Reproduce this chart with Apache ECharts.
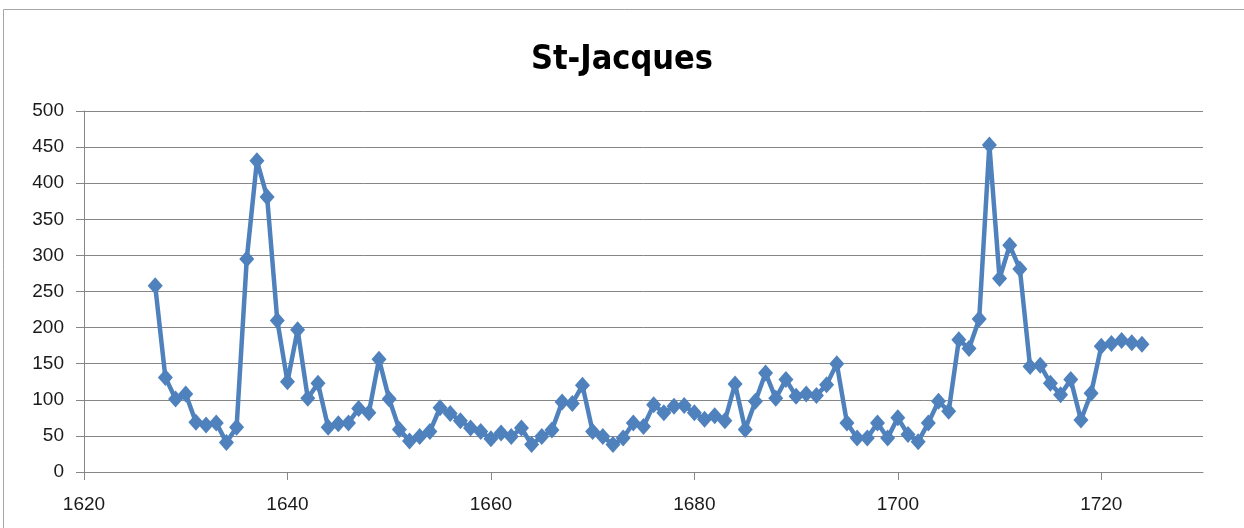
<!DOCTYPE html>
<html>
<head>
<meta charset="utf-8">
<title>St-Jacques</title>
<script src="https://cdn.jsdelivr.net/npm/echarts@6/dist/echarts.min.js"></script>
<style>
  html, body { margin: 0; padding: 0; background: #fff; }
  #chart { width: 1244px; height: 528px; }
</style>
</head>
<body>
<div id="chart"></div>
<script>
'use strict';
// St-Jacques - yearly series, 1627 to 1724
const years = [
  1627, 1628, 1629, 1630, 1631, 1632, 1633, 1634, 1635, 1636,
  1637, 1638, 1639, 1640, 1641, 1642, 1643, 1644, 1645, 1646,
  1647, 1648, 1649, 1650, 1651, 1652, 1653, 1654, 1655, 1656,
  1657, 1658, 1659, 1660, 1661, 1662, 1663, 1664, 1665, 1666,
  1667, 1668, 1669, 1670, 1671, 1672, 1673, 1674, 1675, 1676,
  1677, 1678, 1679, 1680, 1681, 1682, 1683, 1684, 1685, 1686,
  1687, 1688, 1689, 1690, 1691, 1692, 1693, 1694, 1695, 1696,
  1697, 1698, 1699, 1700, 1701, 1702, 1703, 1704, 1705, 1706,
  1707, 1708, 1709, 1710, 1711, 1712, 1713, 1714, 1715, 1716,
  1717, 1718, 1719, 1720, 1721, 1722, 1723, 1724
];
const values = [
  258, 131, 101, 108, 69, 65, 68, 41, 62, 295,
  431, 381, 210, 125, 197, 102, 123, 62, 67, 68,
  88, 82, 156, 101, 59, 43, 49, 56, 89, 81,
  71, 61, 56, 46, 54, 49, 61, 38, 49, 58,
  97, 95, 120, 56, 49, 38, 47, 68, 63, 93,
  82, 91, 92, 82, 73, 78, 71, 122, 59, 98,
  137, 102, 128, 105, 108, 106, 121, 150, 68, 47,
  47, 68, 47, 75, 52, 42, 68, 98, 84, 183,
  171, 212, 453, 268, 314, 281, 146, 148, 123, 107,
  128, 72, 109, 174, 178, 182, 179, 177
];
const xTicks = [1620, 1640, 1660, 1680, 1700, 1720];

const LINE = '#4f81bd';
const GRID = '#868686';
const LABEL = '#1a1a1a';

const chart = echarts.init(document.getElementById('chart'));
chart.setOption({
  backgroundColor: '#fff',
  animation: false,
  title: {
    text: 'St-Jacques', left: 'center', top: 38,
    textStyle: { fontFamily: 'DejaVu Sans Condensed', fontWeight: 'bold', fontSize: 34, color: '#000' }
  },
  graphic: [
    { type: 'rect', shape: { x: 3.5, y: 9.5, width: 1260, height: 540 }, style: { fill: null, stroke: '#a6a6a6', lineWidth: 1 } }
  ],
  grid: { left: 84, right: 41, top: 111, bottom: 56 },
  xAxis: {
    type: 'value', min: 1620, max: 1730, interval: 20,
    axisLine: { lineStyle: { color: GRID, width: 1 } },
    axisTick: { show: true, length: 8, customValues: xTicks, lineStyle: { color: GRID } },
    axisLabel: { customValues: xTicks, formatter: (v) => String(v), color: LABEL, fontSize: 19, fontFamily: 'Liberation Sans', margin: 23 },
    splitLine: { show: false }
  },
  yAxis: {
    type: 'value', min: 0, max: 500, interval: 50,
    axisLine: { show: true, lineStyle: { color: GRID, width: 1 } },
    axisTick: { show: true, length: 8, lineStyle: { color: GRID } },
    axisLabel: { color: LABEL, fontSize: 19, fontFamily: 'Liberation Sans', margin: 20 },
    splitLine: { lineStyle: { color: GRID, width: 1 } }
  },
  series: [{
    type: 'line',
    data: years.map((y, i) => [y, values[i]]),
    symbol: 'diamond', symbolSize: [15, 17],
    lineStyle: { color: LINE, width: 4.5 },
    itemStyle: { color: LINE }
  }]
});
</script>
</body>
</html>
